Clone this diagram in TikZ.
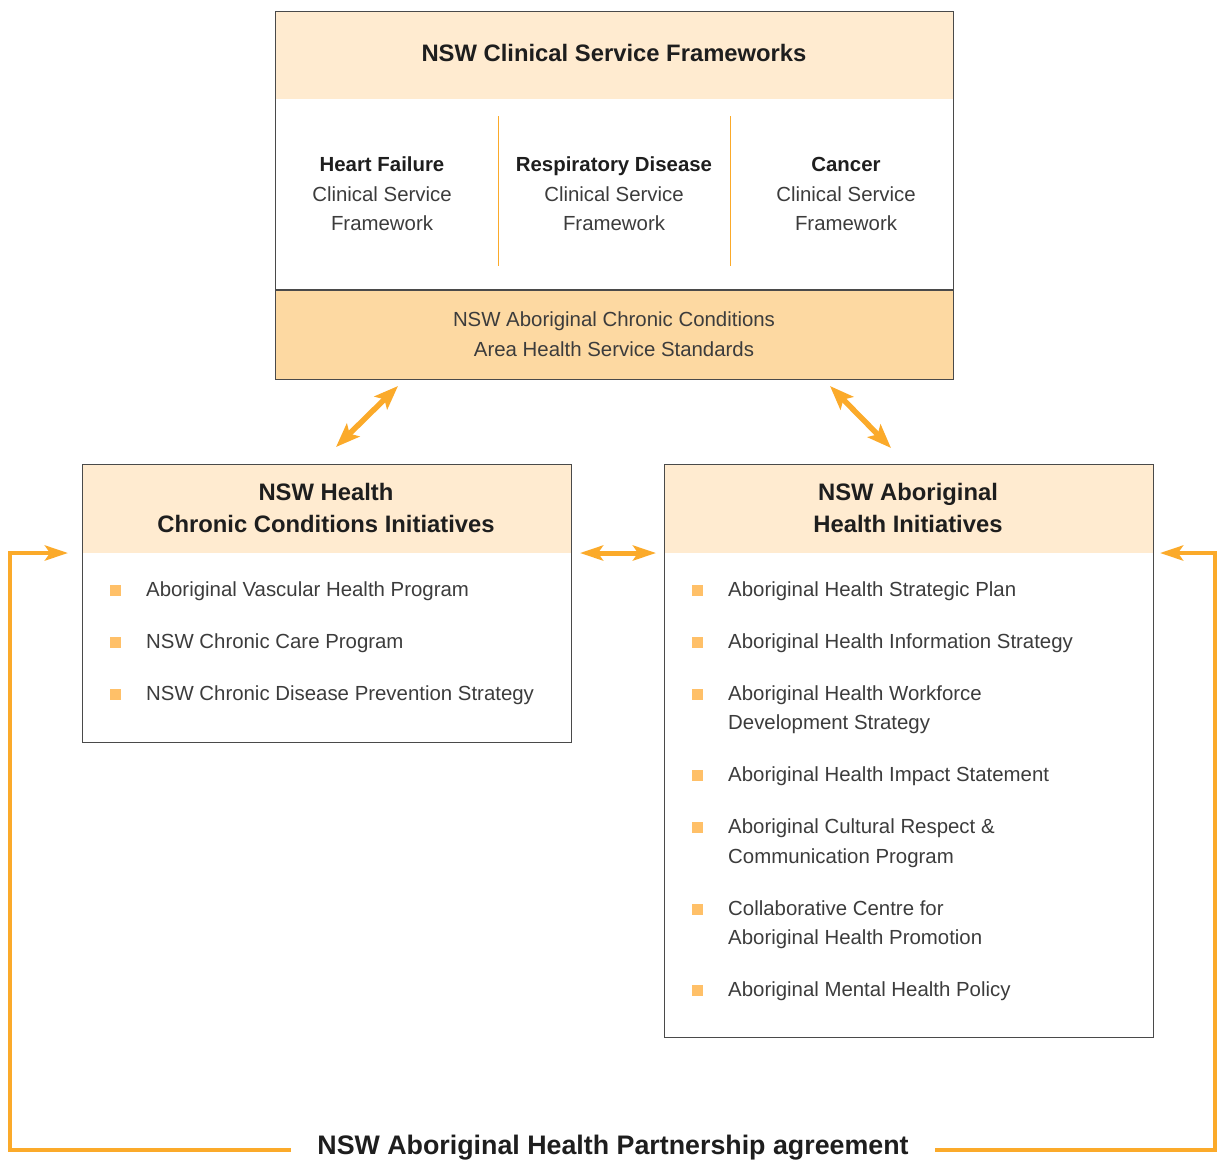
\documentclass[tikz,border=0pt]{standalone}
\usepackage{fontspec}
\setmainfont{Liberation Sans}
\usetikzlibrary{arrows.meta}
\definecolor{hdr}{HTML}{FFEBD0}
\definecolor{band}{HTML}{FDD9A2}
\definecolor{bul}{HTML}{FFC068}
\definecolor{arr}{HTML}{FBAA2A}
\definecolor{frame}{HTML}{4A4A4A}
\definecolor{txt}{HTML}{3C3C3C}
\definecolor{btxt}{HTML}{1E1E1E}
\begin{document}
\begin{tikzpicture}[x=1pt,y=-1pt,
  boxframe/.style={draw=frame,line width=1.2pt},
  ttl/.style={font=\fontsize{23.8}{32}\selectfont\bfseries,text=btxt,align=center},
  col/.style={font=\fontsize{20.4}{29.5}\selectfont,text=txt,align=center},
  item/.style={font=\fontsize{20.4}{29.5}\selectfont,text=txt,align=left,anchor=west,inner sep=0pt},
  bsq/.style={fill=bul,minimum size=11pt,inner sep=0pt},
  tip/.style={Stealth[length=23pt,width=17pt,inset=5pt]},
  dbl/.style={draw=arr,line width=5.5pt,{Stealth[length=24pt,width=18pt,inset=5pt]}-{Stealth[length=24pt,width=18pt,inset=5pt]}},
  loop/.style={draw=arr,line width=4.5pt,-{Stealth[length=23pt,width=15pt,inset=5pt]}}]
\useasboundingbox (0,0) rectangle (1217,1160);
% top box
\fill[hdr] (275,11) rectangle (953,99);
\fill[band] (275,290) rectangle (953,379);
\node[boxframe,minimum width=678pt,minimum height=368pt,anchor=north west,inner sep=0pt] (top) at (275,11) {};
\draw[frame,line width=1.2pt] (275,290) -- (953,290);
\node[ttl] (toptitle) at (614,53) {NSW Clinical Service Frameworks};
\draw[arr,line width=1pt] (498,116) -- (498,266);
\draw[arr,line width=1pt] (730,116) -- (730,266);
\node[col] (hf) at (382,194) {\textcolor{btxt}{\bfseries Heart Failure}\\Clinical Service\\Framework};
\node[col] (rd) at (614,194) {\textcolor{btxt}{\bfseries Respiratory Disease}\\Clinical Service\\Framework};
\node[col] (ca) at (846,194) {\textcolor{btxt}{\bfseries Cancer}\\Clinical Service\\Framework};
\node[col] (std) at (614,334) {NSW Aboriginal Chronic Conditions\\Area Health Service Standards};
% left box
\fill[hdr] (82,464) rectangle (571,553);
\node[boxframe,minimum width=489pt,minimum height=278pt,anchor=north west,inner sep=0pt] (left) at (82,464) {};
\node[ttl] (lt) at (326,508) {NSW Health\\Chronic Conditions Initiatives};
\foreach \y/\t [count=\i] in {591/Aboriginal Vascular Health Program,643/NSW Chronic Care Program,695/NSW Chronic Disease Prevention Strategy}{
  \node[bsq] (lb\i) at (115,\y-1) {};
  \node[item] (li\i) at (146,\y) {\t};
}
% right box
\fill[hdr] (664,464) rectangle (1153,553);
\node[boxframe,minimum width=489pt,minimum height=573pt,anchor=north west,inner sep=0pt] (right) at (664,464) {};
\node[ttl] (rt) at (908,508) {NSW Aboriginal\\Health Initiatives};
\foreach \y in {590,642,694,775,827,909,990}{\node[bsq] at (697,\y) {};}
\node[item] (r1) at (728,591) {Aboriginal Health Strategic Plan};
\node[item] (r2) at (728,643) {Aboriginal Health Information Strategy};
\node[item] (r3) at (728,709.5) {Aboriginal Health Workforce\\Development Strategy};
\node[item] (r4) at (728,776) {Aboriginal Health Impact Statement};
\node[item] (r5) at (728,843) {Aboriginal Cultural Respect \&\\Communication Program};
\node[item] (r6) at (728,924.5) {Collaborative Centre for\\Aboriginal Health Promotion};
\node[item] (r7) at (728,991) {Aboriginal Mental Health Policy};
% arrows
\coordinate (a1) at (336,447); \coordinate (a2) at (398,386);
\coordinate (b1) at (830,386); \coordinate (b2) at (891,448);
\coordinate (c1) at (580,553); \coordinate (c2) at (656,553);
\draw[dbl] (a1) -- (a2);
\draw[dbl] (b1) -- (b2);
\draw[draw=arr,line width=5pt,{Stealth[length=23pt,width=15pt,inset=5pt]}-{Stealth[length=23pt,width=15pt,inset=5pt]}] (c1) -- (c2);
% partnership loop
\node[font=\fontsize{26.8}{30}\selectfont\bfseries,text=btxt] (part) at (613,1148) {NSW Aboriginal Health Partnership agreement};
\coordinate (lend) at (68,553);
\coordinate (rend) at (1160,553);
\draw[loop] (291,1150) -- (10,1150) -- (10,553) -- (lend);
\draw[loop] (935,1150) -- (1215,1150) -- (1215,553) -- (rend);
\end{tikzpicture}
\end{document}
